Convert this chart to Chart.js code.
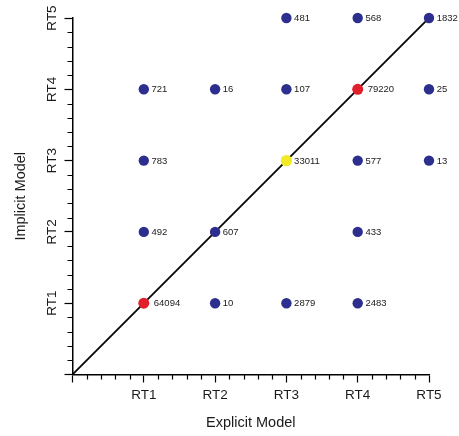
<!DOCTYPE html>
<html>
<head>
<meta charset="utf-8">
<script src="https://cdn.jsdelivr.net/npm/chart.js@4/dist/chart.umd.min.js"></script>
<style>
  html, body { margin: 0; padding: 0; background: #fff; }
  #wrap { width: 459px; height: 436px; }
</style>
</head>
<body>
<div id="wrap"><canvas id="chart"></canvas></div>
<script>
const tickLabels = ["RT1", "RT2", "RT3", "RT4", "RT5"];

// blue points (explicit, implicit, count)
const blueX = [1, 1, 1, 2, 2, 2, 3, 3, 3, 4, 4, 4, 4, 5, 5, 5];
const blueY = [4, 3, 2, 4, 2, 1, 5, 4, 1, 5, 3, 2, 1, 5, 4, 3];
const blueN = [721, 783, 492, 16, 607, 10, 481, 107, 2879, 568, 577, 433, 2483, 1832, 25, 13];

const redX = [1, 4];
const redY = [1, 4];
const redN = [64094, 79220];

const yellowX = [3];
const yellowY = [3];
const yellowN = [33011];

const diagX = [0, 5];
const diagY = [0, 5];

const toPts = (xs, ys) => xs.map((x, i) => ({ x: x, y: ys[i] }));
const isMajor = (v) => Math.abs(v - Math.round(v)) < 1e-6;
const FONT = "'Liberation Sans', Arial, sans-serif";

const pointLabels = {
  id: "pointLabels",
  afterDatasetsDraw(chart) {
    const ctx = chart.ctx;
    ctx.save();
    ctx.font = "9.5px " + FONT;
    ctx.fillStyle = "#1a1a1a";
    ctx.textBaseline = "middle";
    ctx.textAlign = "left";
    chart.data.datasets.forEach((ds, i) => {
      if (!ds.counts) return;
      chart.getDatasetMeta(i).data.forEach((pt, j) => {
        ctx.fillText(String(ds.counts[j]), pt.x + ds.pointRadius + ds.labelGap, pt.y + 0.5);
      });
    });
    ctx.restore();
  },
};

// minor ticks + rotated y tick labels
const axisExtras = {
  id: "axisExtras",
  afterDraw(chart) {
    const ctx = chart.ctx;
    const xs = chart.scales.x, ys = chart.scales.y;
    const a = chart.chartArea;
    ctx.save();
    ctx.strokeStyle = "#000";
    ctx.lineWidth = 1.2;
    ctx.beginPath();
    xs.ticks.forEach((t) => {
      if (isMajor(t.value)) return;
      const px = Math.round(xs.getPixelForValue(t.value)) + 0.5;
      ctx.moveTo(px, a.bottom);
      ctx.lineTo(px, a.bottom + 5);
    });
    ys.ticks.forEach((t) => {
      if (isMajor(t.value)) return;
      const py = Math.round(ys.getPixelForValue(t.value)) + 0.5;
      ctx.moveTo(a.left, py);
      ctx.lineTo(a.left - 5, py);
    });
    ctx.stroke();

    ctx.font = "13.5px " + FONT;
    ctx.fillStyle = "#1a1a1a";
    ctx.textAlign = "center";
    ctx.textBaseline = "middle";
    tickLabels.forEach((lab, i) => {
      const py = ys.getPixelForValue(i + 1);
      ctx.save();
      ctx.translate(a.left - 20, py);
      ctx.rotate(-Math.PI / 2);
      ctx.fillText(lab, 0, 0);
      ctx.restore();
    });
    ctx.restore();
  },
};

new Chart(document.getElementById("chart"), {
  type: "scatter",
  data: {
    datasets: [
      {
        label: "Yellow",
        data: toPts(yellowX, yellowY),
        counts: yellowN,
        backgroundColor: "#f3ea26",
        borderWidth: 0,
        pointRadius: 5.7,
        labelGap: 2,
        clip: false,
      },
      {
        label: "Red",
        data: toPts(redX, redY),
        counts: redN,
        backgroundColor: "#e0202a",
        borderWidth: 0,
        pointRadius: 5.5,
        labelGap: 4.5,
        clip: false,
      },
      {
        label: "Blue",
        data: toPts(blueX, blueY),
        counts: blueN,
        backgroundColor: "#2c2f8e",
        borderWidth: 0,
        pointRadius: 5.2,
        labelGap: 2.5,
        clip: false,
      },
      {
        type: "line",
        label: "Diagonal",
        data: toPts(diagX, diagY),
        borderColor: "#000",
        borderWidth: 1.8,
        pointRadius: 0,
        fill: false,
      },
    ],
  },
  options: {
    responsive: true,
    maintainAspectRatio: false,
    animation: false,
    layout: { padding: { top: 18, right: 30, left: 0, bottom: 0 } },
    plugins: {
      legend: { display: false },
      tooltip: { enabled: false },
    },
    scales: {
      x: {
        type: "linear",
        min: 0,
        max: 5,
        afterFit: (s) => { s.height = 61.5; },
        ticks: {
          stepSize: 0.2,
          autoSkip: false,
          maxRotation: 0,
          padding: 5,
          color: "#1a1a1a",
          font: { family: FONT, size: 13.5 },
          callback: (v) => (isMajor(v) && Math.round(v) > 0 ? tickLabels[Math.round(v) - 1] : ""),
        },
        grid: {
          drawOnChartArea: false,
          tickLength: 8,
          tickWidth: 1.2,
          tickColor: (c) => (c.tick && isMajor(c.tick.value) ? "#000" : "rgba(0,0,0,0)"),
        },
        border: { display: true, color: "#000", width: 1.5 },
        title: {
          display: true,
          text: "Explicit Model",
          color: "#1a1a1a",
          font: { family: FONT, size: 14.5 },
          padding: { top: 0, bottom: 4 },
        },
      },
      y: {
        type: "linear",
        min: 0,
        max: 5,
        afterFit: (s) => { s.width = 72.5; },
        ticks: {
          stepSize: 0.2,
          autoSkip: false,
          display: false,
        },
        grid: {
          drawOnChartArea: false,
          tickLength: 8,
          tickWidth: 1.2,
          tickColor: (c) => (c.tick && isMajor(c.tick.value) ? "#000" : "rgba(0,0,0,0)"),
        },
        border: { display: true, color: "#000", width: 1.5 },
        title: {
          display: true,
          text: "Implicit Model",
          color: "#1a1a1a",
          font: { family: FONT, size: 14.5 },
          padding: { top: 12, bottom: 0 },
        },
      },
    },
  },
  plugins: [pointLabels, axisExtras],
});
</script>
</body>
</html>
